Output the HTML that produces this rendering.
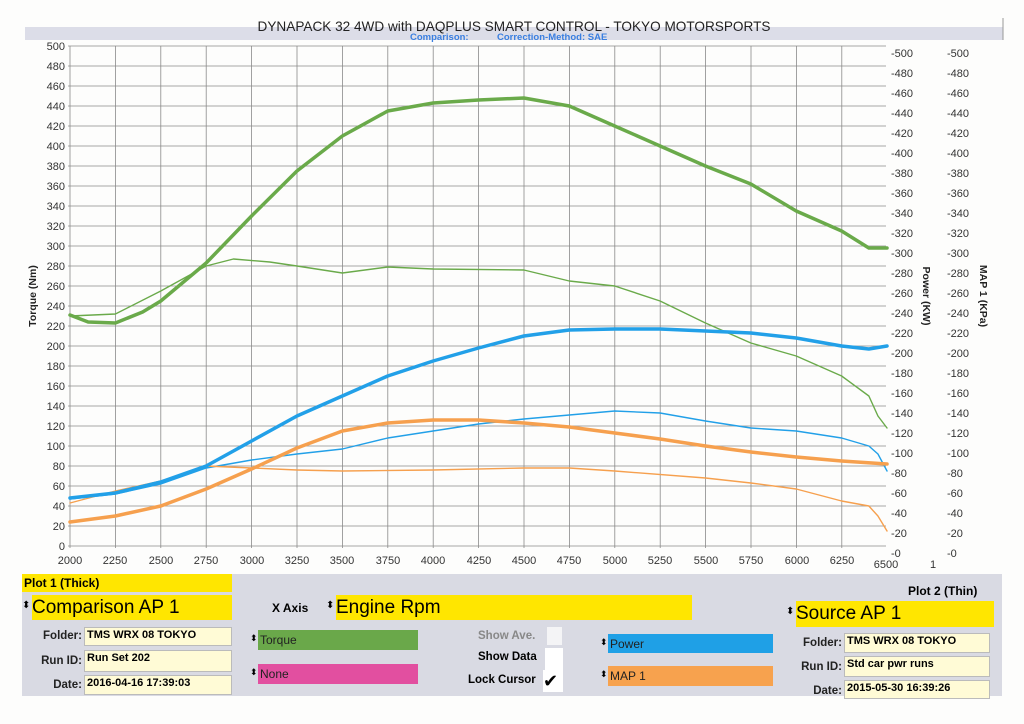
<!DOCTYPE html>
<html><head><meta charset="utf-8"><style>
body{margin:0;width:1024px;height:724px;background:#fdfdfc;font-family:"Liberation Sans",sans-serif;overflow:hidden;position:relative}
.a{position:absolute}
.y{background:#ffe600}
.cr{background:#fffbd6;border:1px solid #bbb;font-size:11px;font-weight:bold;padding:1px 2px;box-sizing:border-box}
.lb{font-size:11.5px;font-weight:bold;text-align:right;color:#222}
.cb{font-size:12px;color:#222;padding-left:2px;box-sizing:border-box;line-height:20px}
</style></head><body>
<svg class="a" style="left:0;top:0" width="1024" height="570">
<rect x="25" y="27" width="978" height="13" fill="#dcdde8"/>
<line x1="1003" y1="18" x2="1003" y2="40" stroke="#999"/>
<text x="514" y="31" font-size="13.6" text-anchor="middle" fill="#222">DYNAPACK 32 4WD with DAQPLUS SMART CONTROL - TOKYO MOTORSPORTS</text>
<text x="410" y="40" font-size="9.5" font-weight="bold" fill="#3a7fe0">Comparison:</text>
<text x="497" y="40" font-size="9.5" font-weight="bold" fill="#3a7fe0">Correction-Method: SAE</text>
<g stroke="#8a8a8a" stroke-width="0.8">
<line x1="68" y1="46" x2="886" y2="46"/><line x1="68" y1="66" x2="886" y2="66"/><line x1="68" y1="86" x2="886" y2="86"/><line x1="68" y1="106" x2="886" y2="106"/><line x1="68" y1="126" x2="886" y2="126"/><line x1="68" y1="146" x2="886" y2="146"/><line x1="68" y1="166" x2="886" y2="166"/><line x1="68" y1="186" x2="886" y2="186"/><line x1="68" y1="206" x2="886" y2="206"/><line x1="68" y1="226" x2="886" y2="226"/><line x1="68" y1="246" x2="886" y2="246"/><line x1="68" y1="266" x2="886" y2="266"/><line x1="68" y1="286" x2="886" y2="286"/><line x1="68" y1="306" x2="886" y2="306"/><line x1="68" y1="326" x2="886" y2="326"/><line x1="68" y1="346" x2="886" y2="346"/><line x1="68" y1="366" x2="886" y2="366"/><line x1="68" y1="386" x2="886" y2="386"/><line x1="68" y1="406" x2="886" y2="406"/><line x1="68" y1="426" x2="886" y2="426"/><line x1="68" y1="446" x2="886" y2="446"/><line x1="68" y1="466" x2="886" y2="466"/><line x1="68" y1="486" x2="886" y2="486"/><line x1="68" y1="506" x2="886" y2="506"/><line x1="68" y1="526" x2="886" y2="526"/><line x1="68" y1="546" x2="886" y2="546"/>
<line x1="70" y1="46" x2="70" y2="548"/><line x1="115.4" y1="46" x2="115.4" y2="548"/><line x1="160.8" y1="46" x2="160.8" y2="548"/><line x1="206.2" y1="46" x2="206.2" y2="548"/><line x1="251.6" y1="46" x2="251.6" y2="548"/><line x1="297" y1="46" x2="297" y2="548"/><line x1="342.4" y1="46" x2="342.4" y2="548"/><line x1="387.8" y1="46" x2="387.8" y2="548"/><line x1="433.2" y1="46" x2="433.2" y2="548"/><line x1="478.6" y1="46" x2="478.6" y2="548"/><line x1="524" y1="46" x2="524" y2="548"/><line x1="569.4" y1="46" x2="569.4" y2="548"/><line x1="614.8" y1="46" x2="614.8" y2="548"/><line x1="660.2" y1="46" x2="660.2" y2="548"/><line x1="705.6" y1="46" x2="705.6" y2="548"/><line x1="751" y1="46" x2="751" y2="548"/><line x1="796.4" y1="46" x2="796.4" y2="548"/><line x1="841.8" y1="46" x2="841.8" y2="548"/>
</g>
<g font-size="11" fill="#333" text-anchor="end">
<text x="65" y="50">500</text><text x="65" y="70">480</text><text x="65" y="90">460</text><text x="65" y="110">440</text><text x="65" y="130">420</text><text x="65" y="150">400</text><text x="65" y="170">380</text><text x="65" y="190">360</text><text x="65" y="210">340</text><text x="65" y="230">320</text><text x="65" y="250">300</text><text x="65" y="270">280</text><text x="65" y="290">260</text><text x="65" y="310">240</text><text x="65" y="330">220</text><text x="65" y="350">200</text><text x="65" y="370">180</text><text x="65" y="390">160</text><text x="65" y="410">140</text><text x="65" y="430">120</text><text x="65" y="450">100</text><text x="65" y="470">80</text><text x="65" y="490">60</text><text x="65" y="510">40</text><text x="65" y="530">20</text><text x="65" y="550">0</text>
</g>
<g font-size="11" fill="#333">
<text x="891" y="57">-500</text><text x="891" y="77">-480</text><text x="891" y="97">-460</text><text x="891" y="117">-440</text><text x="891" y="137">-420</text><text x="891" y="157">-400</text><text x="891" y="177">-380</text><text x="891" y="197">-360</text><text x="891" y="217">-340</text><text x="891" y="237">-320</text><text x="891" y="257">-300</text><text x="891" y="277">-280</text><text x="891" y="297">-260</text><text x="891" y="317">-240</text><text x="891" y="337">-220</text><text x="891" y="357">-200</text><text x="891" y="377">-180</text><text x="891" y="397">-160</text><text x="891" y="417">-140</text><text x="891" y="437">-120</text><text x="891" y="457">-100</text><text x="891" y="477">-80</text><text x="891" y="497">-60</text><text x="891" y="517">-40</text><text x="891" y="537">-20</text><text x="891" y="557">-0</text>
<text x="947" y="57">-500</text><text x="947" y="77">-480</text><text x="947" y="97">-460</text><text x="947" y="117">-440</text><text x="947" y="137">-420</text><text x="947" y="157">-400</text><text x="947" y="177">-380</text><text x="947" y="197">-360</text><text x="947" y="217">-340</text><text x="947" y="237">-320</text><text x="947" y="257">-300</text><text x="947" y="277">-280</text><text x="947" y="297">-260</text><text x="947" y="317">-240</text><text x="947" y="337">-220</text><text x="947" y="357">-200</text><text x="947" y="377">-180</text><text x="947" y="397">-160</text><text x="947" y="417">-140</text><text x="947" y="437">-120</text><text x="947" y="457">-100</text><text x="947" y="477">-80</text><text x="947" y="497">-60</text><text x="947" y="517">-40</text><text x="947" y="537">-20</text><text x="947" y="557">-0</text>
</g>
<g font-size="11" fill="#333" text-anchor="middle">
<text x="70" y="564">2000</text><text x="115" y="564">2250</text><text x="161" y="564">2500</text><text x="206" y="564">2750</text><text x="252" y="564">3000</text><text x="297" y="564">3250</text><text x="342" y="564">3500</text><text x="388" y="564">3750</text><text x="433" y="564">4000</text><text x="479" y="564">4250</text><text x="524" y="564">4500</text><text x="569" y="564">4750</text><text x="615" y="564">5000</text><text x="660" y="564">5250</text><text x="706" y="564">5500</text><text x="751" y="564">5750</text><text x="797" y="564">6000</text><text x="842" y="564">6250</text><text x="886" y="568">6500</text><text x="933" y="568">1</text>
</g>
<text transform="translate(36,296) rotate(-90)" font-size="10.5" font-weight="bold" text-anchor="middle" fill="#222">Torque (Nm)</text>
<text transform="translate(923,296) rotate(90)" font-size="10.5" font-weight="bold" text-anchor="middle" fill="#222">Power (KW)</text>
<text transform="translate(980,296) rotate(90)" font-size="10.5" font-weight="bold" text-anchor="middle" fill="#222">MAP 1 (KPa)</text>
<g transform="translate(-293.12,546) scale(0.18156,-1)" fill="none" stroke-linejoin="round" stroke-linecap="round">
<polyline vector-effect="non-scaling-stroke" stroke="#6aaa4a" stroke-width="1.4" points="2000,230 2250,232 2500,255 2750,280 2900,287 3100,284 3250,280 3500,273 3750,279 4000,277 4500,276 4750,265 5000,260 5250,245 5500,223 5750,203 6000,190 6250,170 6400,150 6450,130 6500,118"/>
<polyline vector-effect="non-scaling-stroke" stroke="#22a0e8" stroke-width="1.4" points="2000,47 2250,52 2500,62 2750,78 3000,86 3250,92 3500,97 3750,108 4000,115 4250,122 4500,127 4750,131 5000,135 5250,133 5500,125 5750,118 6000,115 6250,108 6400,100 6450,92 6500,75"/>
<polyline vector-effect="non-scaling-stroke" stroke="#f6a04e" stroke-width="1.4" points="2000,43 2250,55 2500,65 2750,80 3000,78 3250,76 3500,75 4000,76 4500,78 4750,78 5000,75 5500,68 5750,63 6000,57 6250,45 6400,40 6450,30 6500,15"/>
<polyline vector-effect="non-scaling-stroke" stroke="#6aaa4a" stroke-width="3.5" points="2000,231 2100,224 2250,223 2400,234 2500,245 2750,283 3000,330 3250,375 3500,410 3650,425 3750,435 4000,443 4250,446 4500,448 4750,440 5000,420 5250,400 5500,380 5750,362 6000,335 6250,315 6400,298 6500,298"/>
<polyline vector-effect="non-scaling-stroke" stroke="#22a0e8" stroke-width="3.5" points="2000,48 2250,53 2500,64 2750,80 3000,105 3250,130 3500,150 3750,170 4000,185 4250,198 4500,210 4750,216 5000,217 5250,217 5500,215 5750,213 6000,208 6250,200 6400,197 6500,200"/>
<polyline vector-effect="non-scaling-stroke" stroke="#f6a04e" stroke-width="3.5" points="2000,24 2250,30 2500,40 2750,57 3000,77 3250,98 3500,115 3750,123 4000,126 4250,126 4500,123 4750,119 5000,113 5250,107 5500,100 5750,94 6000,89 6250,85 6500,82"/>
</g>
</svg>
<div class="a" style="left:22px;top:574px;width:980px;height:122px;background:#d9dae3"></div>
<div class="a y" style="left:22px;top:574px;width:210px;height:18px;font-size:12px;font-weight:bold;line-height:18px;padding-left:2px;box-sizing:border-box">Plot 1 (Thick)</div>
<div class="a y" style="left:32px;top:595px;width:200px;height:25px;font-size:19px;line-height:25px">Comparison AP 1</div>
<div class="a" style="left:22px;top:600px;font-size:10px">⬍</div>
<div class="a" style="left:272px;top:601px;font-size:12px;font-weight:bold">X Axis</div>
<div class="a" style="left:326px;top:600px;font-size:10px">⬍</div>
<div class="a y" style="left:336px;top:595px;width:356px;height:25px;font-size:19px;line-height:25px">Engine Rpm</div>
<div class="a" style="left:908px;top:584px;font-size:12px;font-weight:bold">Plot 2 (Thin)</div>
<div class="a" style="left:786px;top:606px;font-size:10px">⬍</div>
<div class="a y" style="left:796px;top:601px;width:198px;height:26px;font-size:19px;line-height:26px">Source AP 1</div>
<div class="a lb" style="left:20px;top:630px;width:62px">Folder:</div>
<div class="a cr" style="left:84px;top:627px;width:148px;height:19px">TMS WRX 08 TOKYO</div>
<div class="a lb" style="left:20px;top:655px;width:62px">Run ID:</div>
<div class="a cr" style="left:84px;top:650px;width:148px;height:22px">Run Set 202</div>
<div class="a lb" style="left:20px;top:679px;width:62px">Date:</div>
<div class="a cr" style="left:84px;top:675px;width:148px;height:20px">2016-04-16 17:39:03</div>
<div class="a" style="left:250px;top:633px;font-size:9px">⬍</div>
<div class="a cb" style="left:258px;top:630px;width:160px;height:20px;background:#6aa84a">Torque</div>
<div class="a" style="left:250px;top:667px;font-size:9px">⬍</div>
<div class="a cb" style="left:258px;top:664px;width:160px;height:20px;background:#e24fa0">None</div>
<div class="a" style="left:478px;top:630px;font-size:11.5px;font-weight:bold;color:#888">Show Ave.</div>
<div class="a" style="left:547px;top:627px;width:15px;height:18px;background:#f4f4f6"></div>
<div class="a" style="left:478px;top:651px;font-size:11.5px;font-weight:bold">Show Data</div>
<div class="a" style="left:545px;top:648px;width:18px;height:23px;background:#fff"></div>
<div class="a" style="left:468px;top:674px;font-size:11.5px;font-weight:bold">Lock Cursor</div>
<div class="a" style="left:543px;top:670px;width:20px;height:22px;background:#fff;font-size:18px;line-height:22px">✔</div>
<div class="a" style="left:600px;top:637px;font-size:9px">⬍</div>
<div class="a cb" style="left:608px;top:634px;width:165px;height:19px;background:#1fa0e6">Power</div>
<div class="a" style="left:600px;top:669px;font-size:9px">⬍</div>
<div class="a cb" style="left:608px;top:666px;width:165px;height:20px;background:#f7a24e">MAP 1</div>
<div class="a lb" style="left:780px;top:637px;width:62px">Folder:</div>
<div class="a cr" style="left:844px;top:633px;width:146px;height:20px">TMS WRX 08 TOKYO</div>
<div class="a lb" style="left:780px;top:661px;width:62px">Run ID:</div>
<div class="a cr" style="left:844px;top:656px;width:146px;height:21px">Std car pwr runs</div>
<div class="a lb" style="left:780px;top:685px;width:62px">Date:</div>
<div class="a cr" style="left:844px;top:680px;width:146px;height:19px">2015-05-30 16:39:26</div>
</body></html>
